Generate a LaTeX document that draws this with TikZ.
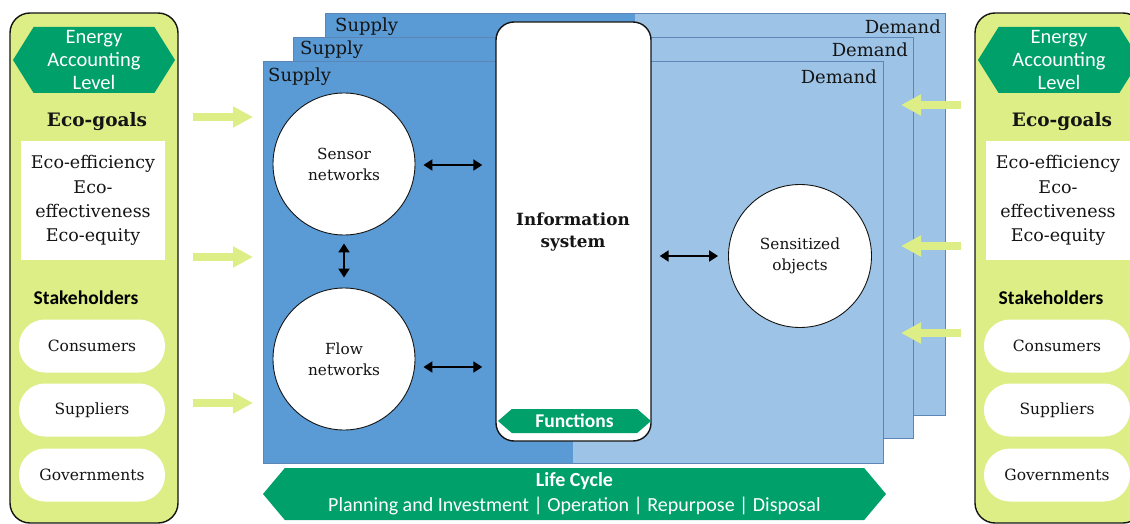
\documentclass[tikz,border=0pt]{standalone}
\usepackage{fontspec}
\setmainfont{DejaVu Serif}
\newfontfamily\carl{Carlito}
\usetikzlibrary{arrows.meta,shapes.symbols}
\definecolor{dblue}{HTML}{5B9BD5}
\definecolor{lblue}{HTML}{9DC3E6}
\definecolor{bedge}{HTML}{5B86B5}
\definecolor{hgreen}{HTML}{00A06B}
\definecolor{lgreen}{HTML}{DDEE86}
\definecolor{ink}{HTML}{141414}
\newcommand\fs[2]{\fontsize{#1}{#2}\selectfont}
\tikzset{
  panel/.style={draw=ink, line width=1.4pt, fill=lgreen, rounded corners=20pt},
  hexa/.style={shape=signal, signal to=east and west, fill=hgreen, text=white, inner sep=0pt, font=\carl},
  stadium/.style={fill=white, rounded corners=26pt, minimum width=146pt, minimum height=53pt, inner sep=0pt, font=\fs{15.5}{19}, text=ink},
  goalbox/.style={fill=white, minimum width=144pt, minimum height=119pt, inner sep=0pt, align=center, font=\fs{17.5}{24.3}, text=ink},
  circ/.style={circle, draw=ink, line width=0.9pt, fill=white, minimum size=142pt, inner sep=0pt, align=center, font=\fs{15.3}{21}, text=ink},
  plabel/.style={inner sep=0pt, font=\fs{18}{20}, text=ink},
  dbl/.style={{Triangle[length=9pt,width=11pt]}-{Triangle[length=9pt,width=11pt]}, line width=2pt, black},
  bigarrow/.style={-{Triangle[length=20pt,width=20pt]}, line width=7.5pt, draw=lgreen},
  planeedge/.style={draw=bedge, line width=0.8pt}
}
\begin{document}
\begin{tikzpicture}[x=1pt,y=-1pt]
\useasboundingbox (0,0) rectangle (1130,524);
\clip (0,0) rectangle (1130,524);
\fill[white] (0,0) rectangle (1130,524);

% ---------- planes (back, middle, front) ----------
\fill[dblue] (325,13) rectangle (635,415);
\fill[lblue] (635,13) rectangle (945,415);
\draw[planeedge] (325,13) rectangle (945,415);
\node[plabel, anchor=west] (sup3) at (335,27) {Supply};
\node[plabel, anchor=east] (dem3) at (941,27) {Demand};

\fill[dblue] (293,37) rectangle (603,438);
\fill[lblue] (603,37) rectangle (913,438);
\draw[planeedge] (293,37) rectangle (913,438);
\node[plabel, anchor=west] (sup2) at (300,50) {Supply};
\node[plabel, anchor=east] (dem2) at (908,50) {Demand};

\fill[dblue] (263,61) rectangle (573,463);
\fill[lblue] (573,61) rectangle (883,463);
\draw[planeedge] (263,61) rectangle (883,463);
\node[plabel, anchor=west] (sup1) at (268,77) {Supply};
\node[plabel, anchor=east] (dem1) at (877,77) {Demand};

% ---------- information system ----------
\node[draw=ink, line width=1.4pt, fill=white, rounded corners=18pt, minimum width=155pt, minimum height=419pt, inner sep=0pt] (info) at (573.5,231.5) {};
\node[align=center, font=\bfseries\fs{16.8}{22}, text=ink] (infot) at (573,232) {Information\\system};
\node[hexa, minimum width=153pt, minimum height=24pt, signal pointer angle=82, font=\carl\bfseries\fs{19.5}{20}] (func) at (574.5,421) {Functions};

% ---------- circles ----------
\node[circ] (sensor) at (344,164) {Sensor\\networks};
\node[circ] (flow) at (344,359) {Flow\\networks};
\node[circ, minimum size=143pt] (sens) at (800,256) {Sensitized\\objects};

\draw[dbl, shorten <=8pt, shorten >=13pt] ([yshift=-1pt]sensor.east) -- ([yshift=-1pt]sensor.east -| info.west);
\draw[dbl, shorten <=8pt, shorten >=13pt] ([yshift=-8pt]flow.east) -- ([yshift=-8pt]flow.east -| info.west);
\draw[dbl, shorten <=8pt, shorten >=10pt] (sensor.south) -- (flow.north);
\draw[dbl, shorten <=8pt, shorten >=10pt] (info.east |- sens.west) -- (sens.west);

% ---------- life cycle ----------
\node[hexa, minimum width=623pt, minimum height=52pt, signal pointer angle=100, align=center, font=\carl\fs{20}{25}] (life) at (574.5,494) {\textbf{Life Cycle}\\Planning and Investment | Operation | Repurpose | Disposal};

% ---------- left panel ----------
\draw[panel] (10,13) rectangle (178,523);
\node[hexa, minimum width=162pt, minimum height=66pt, signal pointer angle=116, align=center, font=\carl\fs{20.5}{23}] (eal) at (94,60) {Energy\\Accounting\\Level};
\node[font=\bfseries\fs{18.5}{20}, text=ink] (egl) at (97,122) {Eco-goals};
\node[goalbox] (gbl) at (93,200.5) {Eco-efficiency\\Eco-\\effectiveness\\Eco-equity};
\node[font=\carl\bfseries\fs{19.5}{20}, text=black] (skl) at (86,298) {Stakeholders};
\node[stadium] (conl) at (92,346) {Consumers};
\node[stadium] (supl) at (92,410) {Suppliers};
\node[stadium] (govl) at (92,475) {Governments};

% ---------- right panel ----------
\draw[panel] (975,13) rectangle (1143,523);
\node[hexa, minimum width=162pt, minimum height=66pt, signal pointer angle=116, align=center, font=\carl\fs{20.5}{23}] (ear) at (1059,60) {Energy\\Accounting\\Level};
\node[font=\bfseries\fs{18.5}{20}, text=ink] (egr) at (1062,122) {Eco-goals};
\node[goalbox] (gbr) at (1058,200.5) {Eco-efficiency\\Eco-\\effectiveness\\Eco-equity};
\node[font=\carl\bfseries\fs{19.5}{20}, text=black] (skr) at (1051,298) {Stakeholders};
\node[stadium] (conr) at (1057,346) {Consumers};
\node[stadium] (supr) at (1057,410) {Suppliers};
\node[stadium] (govr) at (1057,475) {Governments};

% ---------- big arrows ----------
\coordinate (la1) at (193,117); \coordinate (la1e) at (253,117);
\coordinate (la2) at (193,257); \coordinate (la2e) at (253,257);
\coordinate (la3) at (193,403); \coordinate (la3e) at (253,403);
\coordinate (ra1) at (961,105); \coordinate (ra1e) at (901,105);
\coordinate (ra2) at (961,246); \coordinate (ra2e) at (901,246);
\coordinate (ra3) at (961,333); \coordinate (ra3e) at (901,333);
\draw[bigarrow] (la1) -- (la1e);
\draw[bigarrow] (la2) -- (la2e);
\draw[bigarrow] (la3) -- (la3e);
\draw[bigarrow] (ra1) -- (ra1e);
\draw[bigarrow] (ra2) -- (ra2e);
\draw[bigarrow] (ra3) -- (ra3e);
\end{tikzpicture}
\end{document}
